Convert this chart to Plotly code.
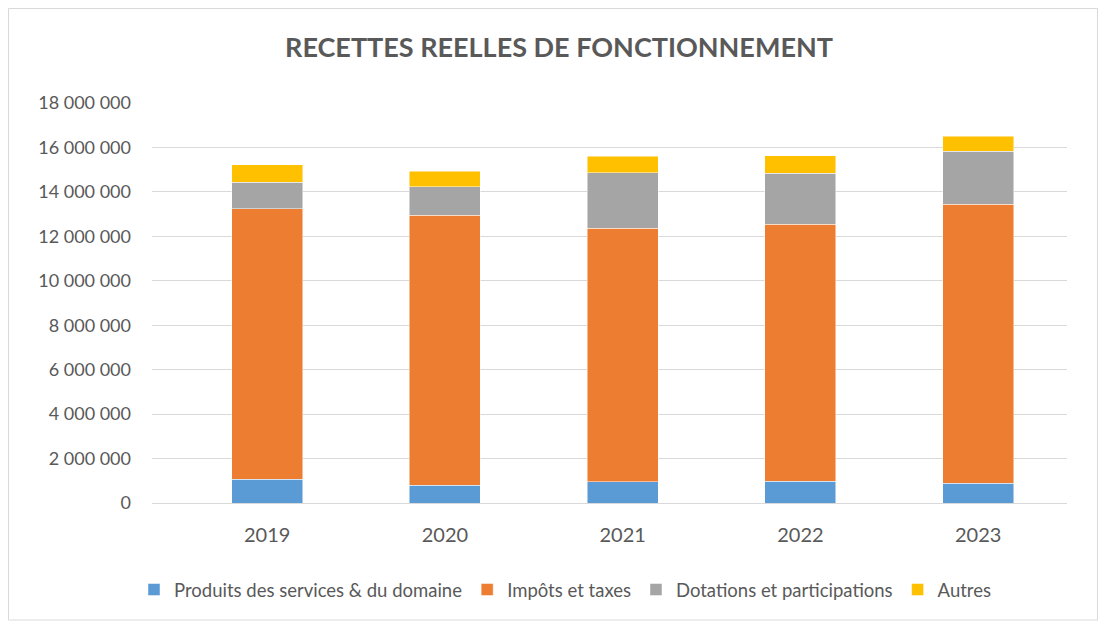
import plotly.graph_objects as go

years = ["2019", "2020", "2021", "2022", "2023"]
produits = [1080000, 790000, 955000, 970000, 900000]
impots = [12160000, 12160000, 11405000, 11570000, 12540000]
dotations = [1200000, 1280000, 2500000, 2290000, 2380000]
autres = [790000, 700000, 750000, 790000, 680000]

series = [
    ("Produits des services & du domaine", produits, "#5B9BD5"),
    ("Impôts et taxes", impots, "#ED7D31"),
    ("Dotations et participations", dotations, "#A5A5A5"),
    ("Autres", autres, "#FFC000"),
]

fig = go.Figure()
for name, vals, col in series:
    fig.add_trace(go.Bar(
        x=years, y=vals, name=name, width=0.4,
        marker=dict(color=col, line=dict(color="rgba(255,255,255,0.6)", width=0.8)),
    ))

# page is rendered with an 8px body margin -> work in figure coords (page - 8)
L, T, PW, PH = 144, 95, 915, 400
W, H = 1091, 616
font_fam = "Lato, 'Open Sans', sans-serif"
fig.update_layout(
    barmode="stack",
    width=W, height=H,
    margin=dict(l=L, r=W - L - PW, t=T, b=H - T - PH, autoexpand=False),
    paper_bgcolor="white", plot_bgcolor="white",
    separators=", ",
    font=dict(family=font_fam, color="#595959"),
    title=dict(text="<b>RECETTES REELLES DE FONCTIONNEMENT</b>",
               font=dict(size=27, color="#595959", family=font_fam),
               xref="paper", x=(551 - L) / PW, xanchor="center",
               yref="container", y=1 - 40 / H, yanchor="middle"),
    xaxis=dict(type="category", range=[-0.648, 4.5], showgrid=False,
               showline=True, linecolor="#d9d9d9", linewidth=1,
               ticks="", ticklabelstandoff=14,
               tickfont=dict(size=20, color="#595959")),
    yaxis=dict(range=[0, 18000000], dtick=2000000, tickformat=",d",
               showgrid=True, gridcolor="#d9d9d9", gridwidth=1,
               zeroline=False, showline=False, ticks="", ticklabelstandoff=20,
               tickfont=dict(size=18, color="#595959")),
    legend=dict(orientation="h", xref="paper", x=(557 - L) / PW, xanchor="center",
                y=(T + PH - 582) / PH, yanchor="middle",
                font=dict(size=18.5, color="#595959"), traceorder="normal"),
    bargap=0.6,
    shapes=[dict(type="rect", xref="paper", yref="paper",
                 x0=(0.5 - L) / PW, x1=(1089.5 - L) / PW,
                 y0=(T + PH - 612) / PH, y1=(T + PH - 0.5) / PH,
                 line=dict(color="#d9d9d9", width=1), layer="above")],
)

fig.write_html("out.html")
